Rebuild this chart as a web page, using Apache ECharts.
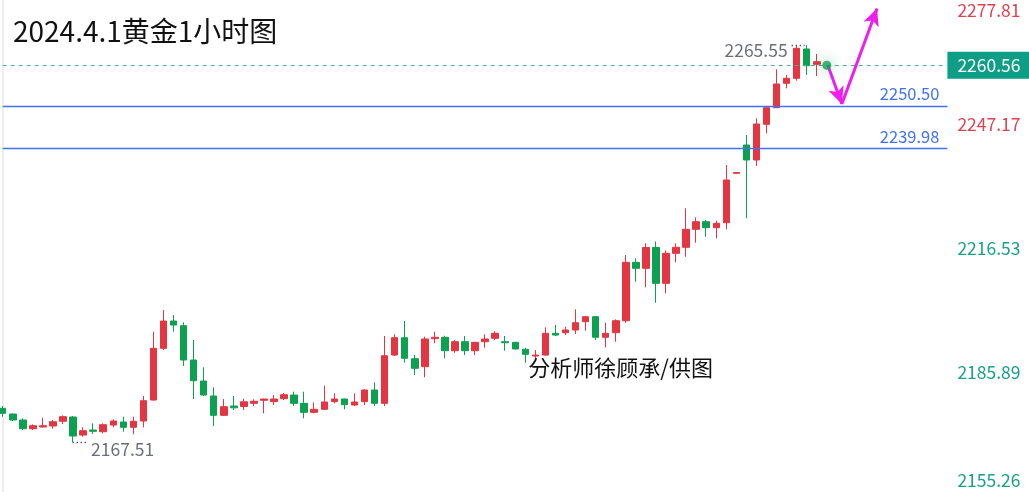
<!DOCTYPE html>
<html>
<head>
<meta charset="utf-8">
<script src="https://cdn.jsdelivr.net/npm/echarts@6/dist/echarts.min.js"></script>
<style>
html,body{margin:0;padding:0;background:#fff;}
#c{width:1029px;height:492px;}
</style>
</head>
<body>
<div id="c"></div>
<script>
// ---- data ----
const titleText = '2024.4.1黄金1小时图';
const creditText = '分析师徐顾承/供图';
const opens  = [2175.83,2174.42,2172.94,2170.79,2171.21,2171.46,2172.62,2173.68,2169.23,2170.47,2170.05,2171.70,2172.45,2171.14,2172.69,2177.88,2190.65,2197.39,2196.23,2187.76,2182.57,2178.87,2174.10,2176.40,2176.27,2177.06,2177.81,2177.48,2178.20,2179.11,2177.06,2174.84,2175.58,2177.48,2178.13,2176.64,2177.48,2180.35,2177.06,2188.99,2193.27,2188.08,2186.11,2193.02,2193.37,2190.06,2192.28,2190.06,2192.28,2193.12,2192.28,2192.13,2190.41,2188.75,2188.99,2194.35,2194.50,2195.17,2197.22,2198.46,2193.37,2194.50,2197.47,2211.89,2210.41,2215.55,2206.70,2214.11,2215.60,2220.04,2221.92,2220.44,2221.67,2233.87,2240.86,2237.16,2245.98,2250.08,2256.11,2257.34,2264.58,2260.80];
const closes = [2174.59,2172.94,2170.79,2171.53,2171.53,2172.52,2173.76,2168.99,2170.30,2170.15,2171.78,2172.69,2171.14,2172.62,2177.71,2190.65,2197.39,2196.40,2187.76,2182.65,2179.11,2174.10,2176.23,2175.95,2177.44,2177.56,2178.13,2178.13,2179.19,2177.06,2174.84,2175.58,2177.39,2178.13,2176.72,2177.39,2180.35,2177.06,2188.82,2193.27,2188.18,2185.71,2192.95,2193.37,2190.06,2192.28,2190.06,2192.13,2192.95,2194.35,2192.03,2190.48,2189.17,2188.99,2194.35,2193.93,2195.17,2196.97,2198.46,2193.37,2194.35,2197.47,2211.89,2210.41,2215.55,2206.70,2214.11,2215.60,2220.04,2221.92,2220.44,2221.53,2232.22,2234.07,2237.16,2246.05,2250.08,2255.93,2257.34,2264.75,2260.45,2261.44];
const lows   = [2173.76,2172.69,2170.47,2170.47,2171.10,2170.79,2171.95,2167.51,2168.82,2169.48,2169.65,2171.14,2170.05,2169.41,2171.14,2177.71,2190.23,2194.75,2186.28,2178.13,2178.87,2171.46,2173.93,2175.41,2175.41,2176.40,2174.59,2176.64,2177.88,2176.40,2173.36,2174.59,2175.41,2177.06,2175.58,2176.40,2176.64,2176.40,2176.40,2188.75,2187.09,2184.05,2183.49,2191.88,2188.18,2189.56,2188.99,2188.99,2190.80,2192.70,2190.06,2190.40,2187.09,2187.76,2188.75,2193.69,2193.93,2194.18,2195.00,2192.70,2190.90,2192.28,2196.97,2207.10,2205.72,2201.91,2204.24,2211.89,2213.27,2216.73,2218.21,2217.82,2220.04,2233.87,2222.76,2235.68,2243.76,2250.00,2254.87,2256.75,2258.16,2257.91];
const highs  = [2176.40,2174.50,2173.36,2171.88,2173.51,2172.94,2174.10,2173.93,2171.14,2172.12,2172.12,2173.11,2173.76,2173.76,2178.87,2194.75,2200.11,2198.87,2197.07,2192.70,2185.96,2181.02,2178.13,2178.87,2178.18,2178.05,2178.20,2179.11,2179.61,2179.93,2179.93,2177.31,2181.41,2179.53,2178.20,2179.53,2180.52,2182.25,2193.69,2194.11,2197.39,2188.99,2193.52,2194.75,2193.76,2192.70,2193.69,2192.20,2194.11,2194.85,2193.69,2192.20,2190.80,2190.23,2195.84,2196.40,2195.98,2200.28,2198.63,2198.63,2196.97,2197.81,2213.69,2212.88,2216.58,2217.03,2214.81,2216.58,2225.23,2223.01,2222.34,2222.17,2235.92,2234.07,2243.33,2247.46,2250.33,2259.56,2258.16,2265.40,2265.55,2263.34];
const slotCount = 95;
const categories = Array.from({length: slotCount}, (_, i) => String(i + 1));
const currentPrice = 2260.56;
const levels = [2250.50, 2239.98];
const highMark = {index: 80, value: 2265.55, label: '2265.55'};
const lowMark  = {index: 7,  value: 2167.51, label: '2167.51'};
const tickValues = [2277.81, 2247.17, 2216.53, 2185.89, 2155.26];
const tickLabels = ['2277.81', '2247.17', '2216.53', '2185.89', '2155.26'];
const tickColors = ['#e0414f', '#e0414f', '#17a288', '#17a288', '#17a288'];
// projected path (slot index, price)
const pathPoints = [[82.1, 2260.56], [83.5, 2251.0], [87.0, 2274.6]];
const creditAnchor = [52.3, 2185.8];
const yMin = 2155.16, yMax = 2276.68;

const candleData = opens.map((o, i) => [o, closes[i], lows[i], highs[i]]);
const UP = '#e33542', DOWN = '#0ba150';
const FONT = '"Noto Sans CJK SC", "Noto Sans", sans-serif';

const chart = echarts.init(document.getElementById('c'), null, {renderer: 'canvas'});
const option = {
  animation: false,
  backgroundColor: '#fff',
  title: {
    text: titleText, left: 8, top: 12,
    textStyle: {fontSize: 28, fontWeight: 'normal', color: '#111', fontFamily: FONT}
  },
  grid: {left: 2.7, right: 81.6, top: 0, bottom: 0, containLabel: false},
  xAxis: [
    {type: 'category', data: categories, boundaryGap: false, show: false},
    {type: 'value', min: 0, max: slotCount - 1, show: false}
  ],
  yAxis: [{
    type: 'value', position: 'right', min: yMin, max: yMax, scale: true,
    axisLine: {show: true, lineStyle: {color: '#e6e8f0', width: 1.5}},
    axisTick: {show: false}, axisLabel: {show: false}, splitLine: {show: false}
  }],
  series: [
    {
      type: 'candlestick', name: 'XAU', xAxisIndex: 0, yAxisIndex: 0,
      data: candleData, barWidth: 7,
      itemStyle: {color: UP, color0: DOWN, borderColor: UP, borderColor0: DOWN, borderWidth: 1},
      markLine: {
        silent: true, symbol: ['none', 'none'], animation: false,
        data: [
          {yAxis: currentPrice, lineStyle: {color: '#5aa898', type: [4, 4], width: 1}, label: {show: false}},
          {yAxis: levels[0], lineStyle: {color: '#3f72f5', type: 'solid', width: 1.3},
            label: {show: true, position: 'insideEndTop', formatter: levels[0].toFixed(2), color: '#3f72f5', fontSize: 16.5, fontFamily: FONT, distance: [8, 4]}},
          {yAxis: levels[1], lineStyle: {color: '#3f72f5', type: 'solid', width: 1.3},
            label: {show: true, position: 'insideEndTop', formatter: levels[1].toFixed(2), color: '#3f72f5', fontSize: 16.5, fontFamily: FONT, distance: [8, 4]}}
        ]
      }
    },
    {
      type: 'scatter', xAxisIndex: 0, yAxisIndex: 0,
      data: [[opens.length, currentPrice]], symbolSize: 9,
      itemStyle: {color: '#12a352', shadowBlur: 14, shadowColor: 'rgba(18,163,82,0.75)'},
      z: 5
    },
    {
      type: 'scatter', xAxisIndex: 1, yAxisIndex: 0,
      data: [[pathPoints[0][0], pathPoints[0][1]]], symbolSize: 0, silent: true,
      markLine: {
        silent: true, animation: false,
        symbol: ['none', 'arrow'], symbolSize: [12, 17],
        lineStyle: {color: '#ee1fee', width: 3, type: 'solid'},
        label: {show: false},
        data: [
          [{coord: pathPoints[0]}, {coord: pathPoints[1]}],
          [{coord: pathPoints[1]}, {coord: pathPoints[2]}],
          [{coord: [highMark.index - 1.5, highMark.value], symbol: 'none', lineStyle: {color: '#555', width: 1.4, type: [1.4, 2.6]}},
           {coord: [highMark.index - 0.2, highMark.value], symbol: 'none'}],
          [{coord: [lowMark.index - 0.05, lowMark.value], symbol: 'none', lineStyle: {color: '#555', width: 1.4, type: [1.4, 2.6]}},
           {coord: [lowMark.index + 1.4, lowMark.value], symbol: 'none'}]
        ]
      },
      markPoint: {
        silent: true, symbol: 'circle', symbolSize: 0, animation: false,
        data: [
          {coord: [highMark.index - 1.5, highMark.value],
            label: {show: true, position: 'left', distance: 4, offset: [0, 5], formatter: highMark.label, color: '#6b6f7a', fontSize: 17.5, fontFamily: FONT}},
          {coord: [lowMark.index + 1.4, lowMark.value],
            label: {show: true, position: 'right', distance: 4, offset: [0, 7], formatter: lowMark.label, color: '#6b6f7a', fontSize: 17.5, fontFamily: FONT}}
        ]
      },
      z: 6
    }
  ]
};
chart.setOption(option);

function addOverlay() {
  const W = chart.getWidth(), H = chart.getHeight();
  const axisX = chart.convertToPixel({xAxisIndex: 1}, slotCount - 1);
  const g = [];
  tickValues.forEach((v, i) => {
    let y = chart.convertToPixel({yAxisIndex: 0}, v) + 5;
    y = Math.max(10, Math.min(H - 12, y));
    g.push({type: 'text', left: axisX + 10, top: y - 12, z: 10,
      style: {text: tickLabels[i], fill: tickColors[i], fontSize: 17.5, fontFamily: FONT, lineHeight: 24}});
  });
  const py = chart.convertToPixel({yAxisIndex: 0}, currentPrice);
  g.push({type: 'rect', shape: {x: axisX, y: py - 13.5, width: W - axisX, height: 27}, style: {fill: '#0d9e85'}, z: 10});
  g.push({type: 'text', left: axisX + 10, top: py - 12, z: 11,
    style: {text: currentPrice.toFixed(2), fill: '#fff', fontSize: 17.5, fontFamily: FONT, lineHeight: 24}});
  const cx = chart.convertToPixel({xAxisIndex: 1}, creditAnchor[0]);
  const cy = chart.convertToPixel({yAxisIndex: 0}, creditAnchor[1]);
  g.push({type: 'text', left: cx, top: cy - 15, z: 10,
    style: {text: creditText, fill: '#111', fontSize: 22, fontFamily: FONT, lineHeight: 30}});
  chart.setOption({graphic: g});
}
addOverlay();
</script>
</body>
</html>
